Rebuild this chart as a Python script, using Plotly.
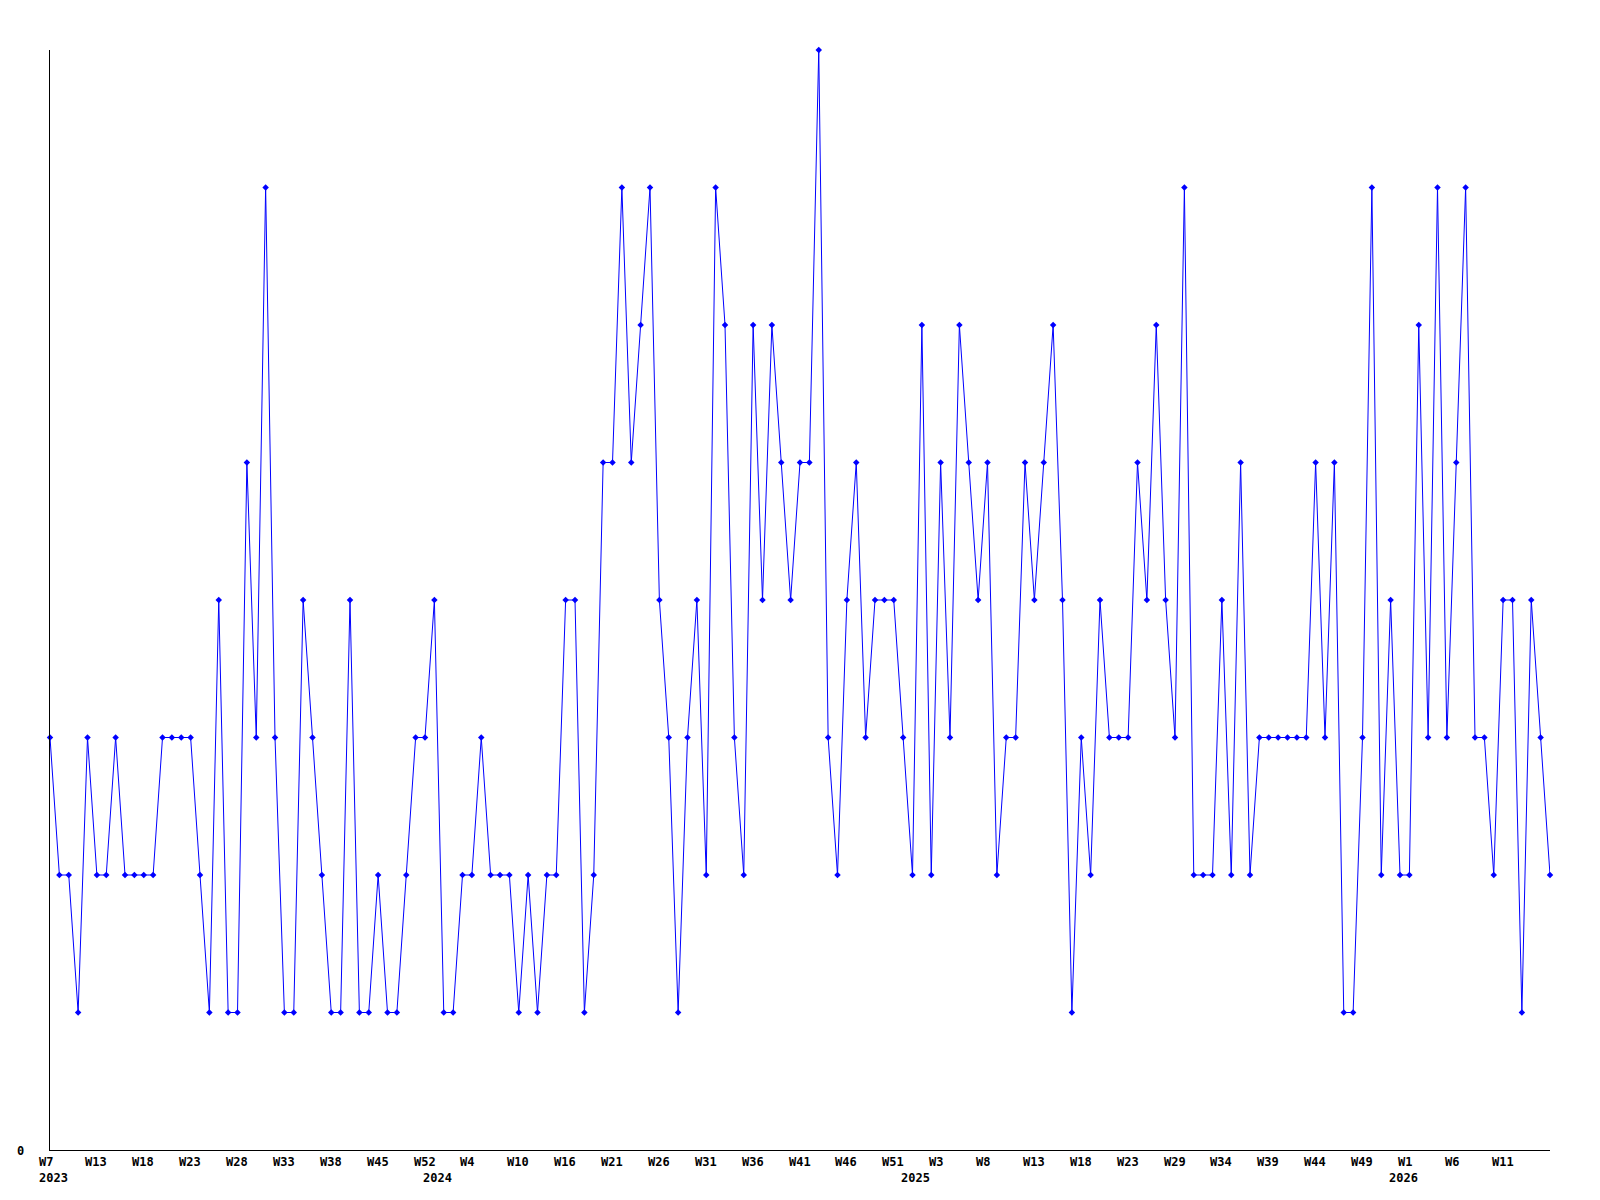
import plotly.graph_objects as go

# weekly counts, one point per week (index 0 = 2023 W7)
values = [
    3, 2, 2, 1, 3, 2, 2, 3, 2, 2,
    2, 2, 3, 3, 3, 3, 2, 1, 4, 1,
    1, 5, 3, 7, 3, 1, 1, 4, 3, 2,
    1, 1, 4, 1, 1, 2, 1, 1, 2, 3,
    3, 4, 1, 1, 2, 2, 3, 2, 2, 2,
    1, 2, 1, 2, 2, 4, 4, 1, 2, 5,
    5, 7, 5, 6, 7, 4, 3, 1, 3, 4,
    2, 7, 6, 3, 2, 6, 4, 6, 5, 4,
    5, 5, 8, 3, 2, 4, 5, 3, 4, 4,
    4, 3, 2, 6, 2, 5, 3, 6, 5, 4,
    5, 2, 3, 3, 5, 4, 5, 6, 4, 1,
    3, 2, 4, 3, 3, 3, 5, 4, 6, 4,
    3, 7, 2, 2, 2, 4, 2, 5, 2, 3,
    3, 3, 3, 3, 3, 5, 3, 5, 1, 1,
    3, 7, 2, 4, 2, 2, 6, 3, 7, 3,
    5, 7, 3, 3, 2, 4, 4, 1, 4, 3,
    2,
]

# a week label every 5th point
week_labels = [
    "W7", "W13", "W18", "W23", "W28", "W33", "W38", "W45", "W52", "W4",
    "W10", "W16", "W21", "W26", "W31", "W36", "W41", "W46", "W51", "W3",
    "W8", "W13", "W18", "W23", "W29", "W34", "W39", "W44", "W49", "W1",
    "W6", "W11",
]
week_step = 5

year_labels = ["2023", "2024", "2025", "2026"]
year_index = [0, 41, 92, 144]

FONT = dict(family="DejaVu Sans Mono", size=12, color="black", weight="bold")

x = list(range(len(values)))

fig = go.Figure(go.Scatter(
    x=x, y=values,
    mode="lines+markers",
    line=dict(color="#0000ff", width=1),
    marker=dict(symbol="diamond", size=5, color="#0000ff"),
    cliponaxis=False,
    hoverinfo="skip",
))

annotations = []
for i, lab in enumerate(week_labels):
    annotations.append(dict(
        x=i * week_step, xref="x", y=0, yref="paper",
        text=lab, showarrow=False, xanchor="left", yanchor="middle",
        xshift=-13.5, yshift=-12, font=FONT,
    ))
for idx, lab in zip(year_index, year_labels):
    annotations.append(dict(
        x=idx, xref="x", y=0, yref="paper",
        text=lab, showarrow=False, xanchor="left", yanchor="middle",
        xshift=-13.5, yshift=-28, font=FONT,
    ))
# lone y tick label
annotations.append(dict(
    x=0, xref="paper", y=0, yref="y",
    text="0", showarrow=False, xanchor="right", yanchor="middle",
    xshift=-24, yshift=-1, font=FONT,
))

# page body adds an 8px offset, margins compensate for it
fig.update_layout(
    width=1600, height=1200,
    margin=dict(l=42, r=58, t=42, b=58),
    paper_bgcolor="white", plot_bgcolor="white",
    showlegend=False,
    xaxis=dict(
        range=[0, len(values) - 1], showgrid=False, zeroline=False,
        showline=True, linecolor="black", linewidth=1,
        showticklabels=False, ticks="",
    ),
    yaxis=dict(
        range=[0, 8], showgrid=False, zeroline=False,
        showline=True, linecolor="black", linewidth=1,
        showticklabels=False, ticks="",
    ),
    annotations=annotations,
)

fig.write_html("out.html")
